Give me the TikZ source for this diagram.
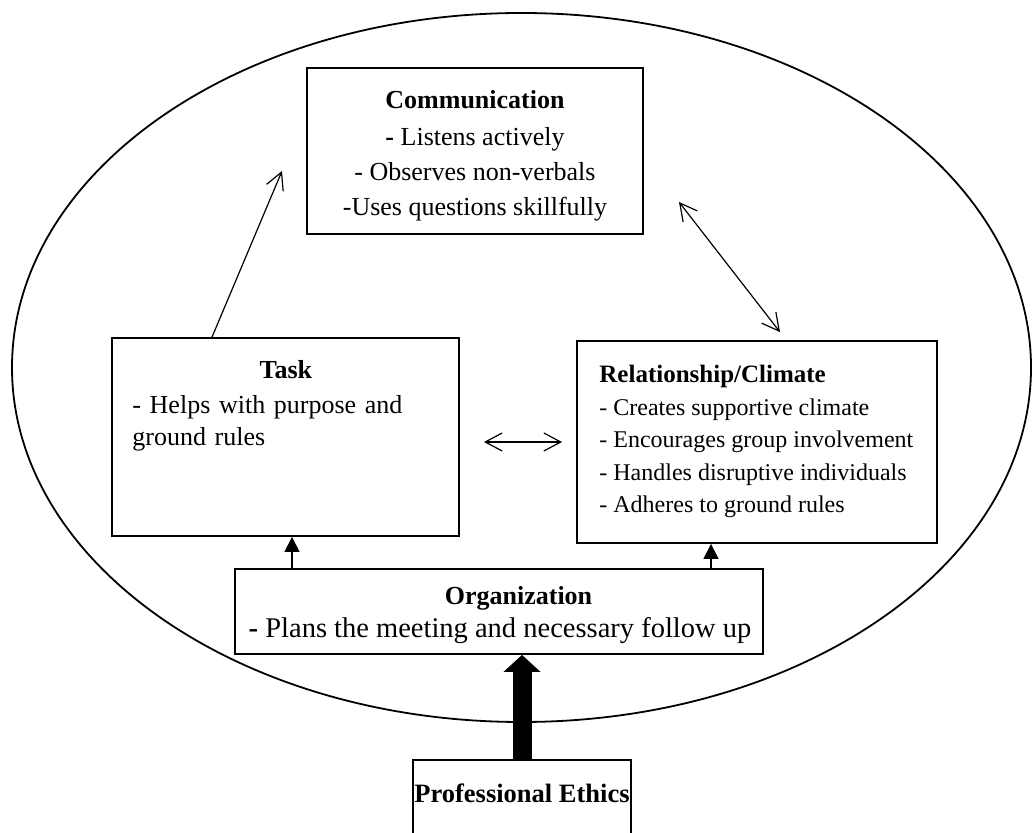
\documentclass[tikz,border=0pt]{standalone}
\usepackage{fontspec}
\setmainfont{Liberation Serif}
\usetikzlibrary{arrows.meta}
\begin{document}
\begin{tikzpicture}[x=0.5pt,y=-0.5pt,
  box/.style={draw, line width=0.9pt, inner sep=0pt, fill=white},
  txt/.style={inner sep=0pt},
  conn/.style={line width=0.6pt},
  barb/.tip={Straight Barb[length=8.5pt,width=9pt,line width=0.6pt]},
  open/.style={conn, -barb},
  both/.style={conn, barb-barb},
  feed/.style={conn, -{Triangle[length=7.5pt,width=7.5pt]}},
  thick/.style={line width=9.5pt, -{Triangle[length=8.5pt,width=18pt]}}]
\clip (0,0) rectangle (1032,833);

% outer frame
\draw[line width=0.9pt] (521.5,367.5) ellipse [x radius=254.75pt, y radius=177.25pt];

% boxes
\node[box, minimum width=168pt, minimum height=83pt] (comm) at (475,151) {};
\node[box, minimum width=173.5pt, minimum height=99pt] (task) at (285.5,437) {};
\node[box, minimum width=180pt, minimum height=101pt] (rel) at (757,442) {};
\node[box, minimum width=264pt, minimum height=42.5pt] (org) at (499,611.5) {};
\node[box, minimum width=109pt, minimum height=70pt] (ethics) at (522,830) {};

% texts
\node[txt, anchor=north, align=center, font=\fontsize{13}{17.5}\selectfont] (commtxt) at (475,90)
  {\textbf{Communication}\\[1pt]\textbf{-} Listens actively\\- Observes non-verbals\\-Uses questions skillfully};
\node[txt, anchor=north west, text width=153.5pt, align=left, font=\fontsize{13}{16.25}\selectfont] (tasktxt) at (132,360)
  {\makebox[153.5pt]{\textbf{Task}}\\[1.2pt]- Helps with purpose and\\ground rules};
\node[txt, anchor=north west, align=left, font=\fontsize{12}{16.25}\selectfont] (reltxt) at (599,365)
  {{\fontsize{12.5}{16.25}\selectfont\textbf{Relationship/Climate}}\\- Creates supportive climate\\- Encourages group involvement\\- Handles disruptive individuals\\- Adheres to ground rules};
\node[txt, anchor=base, font=\bfseries\fontsize{13}{16}\selectfont] (orghead) at (518.5,604) {Organization};
\node[txt, anchor=base, font=\fontsize{14.25}{16}\selectfont] (orgbody) at (500,637) {\textbf{-} Plans the meeting and necessary follow up};
\node[txt, anchor=base, font=\bfseries\fontsize{13.25}{16}\selectfont] (ethicstxt) at (522,802) {Professional Ethics};

% connectors
\coordinate (commin) at (282,171);
\coordinate (commout) at (679,202);
\draw[open] ([xshift=-36.75pt]task.north) -- (commin);
\draw[both] (commout) -- ([xshift=11.5pt,yshift=4pt]rel.north);
\draw[both] ([xshift=12pt]task.east |- rel.west) -- ([xshift=-7pt]rel.west);
\draw[feed] ([xshift=3.25pt]task.south |- org.north) -- ([xshift=3.25pt]task.south);
\draw[feed] ([xshift=-23pt]rel.south |- org.north) -- ([xshift=-23pt]rel.south);
\draw[thick] (ethics.north) -- (ethics.north |- org.south);
\end{tikzpicture}
\end{document}
